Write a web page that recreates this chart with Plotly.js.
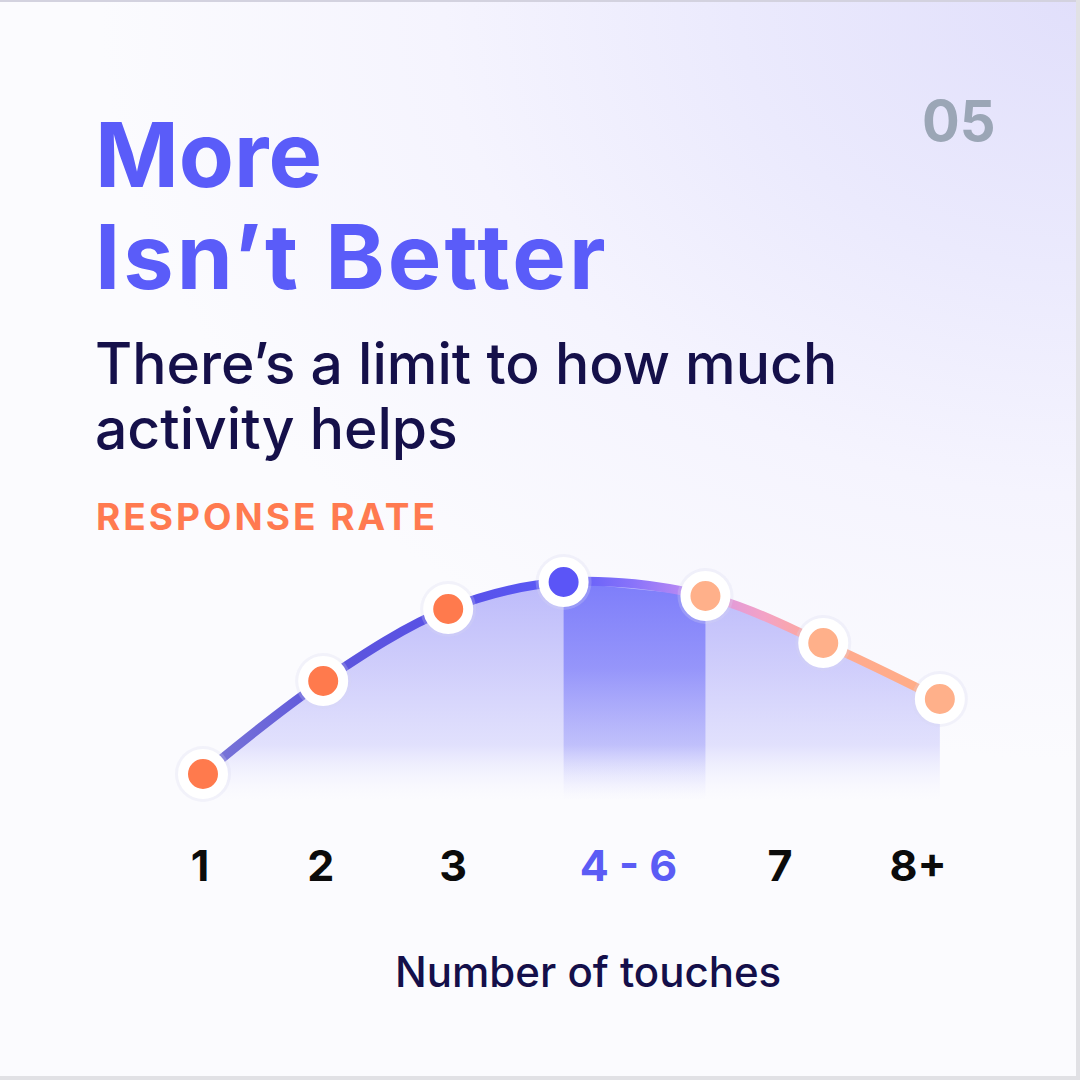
<!DOCTYPE html>
<html>
<head>
<meta charset="utf-8">
<script src="https://cdn.plot.ly/plotly-3.0.1.min.js"></script>
<style>
html, body { margin: 0; padding: 0; background: #fbfbfe; }
#chart {
  width: 1080px; height: 1080px;
  background:
    radial-gradient(ellipse 980px 760px at 100% 0%, #e1dffb 0%, #ebeafd 35%, #f5f4fe 65%, rgba(251,251,254,0) 100%),
    #fbfbfe;
}
</style>
</head>
<body>
<div id="chart"></div>
<script>
// ---- data ----
const touchLabels = ['1', '2', '3', '4 - 6', '7', '8+'];
const labelPos = [0.975, 1.98, 3.08, 4.54, 5.80, 6.95];
const pointPos = [1, 2, 3.04, 4.0, 5.18, 6.16, 7.13];
const responseRate = [2.6, 11.9, 19.1, 21.8, 20.4, 15.7, 10.1];
const pointColors = ['#ff7a4d', '#ff7a4d', '#ff7a4d', '#5b55f7', '#ffb08a', '#ffb08a', '#ffb08a'];
const bandStart = 3, bandEnd = 4; // the "4 - 6" range between points

const tickText = touchLabels.map(t => t === '4 - 6' ? '<span style="color:#5b5cf5">' + t + '</span>' : t);

const W = 1080, H = 1080;
const px = v => v / W;
const py = v => 1 - v / H;

const data = [
  { // soft area under curve
    x: pointPos, y: responseRate, mode: 'lines', hoverinfo: 'skip',
    line: { shape: 'spline', width: 0, color: 'rgba(0,0,0,0)' },
    fill: 'tozeroy',
    fillgradient: {
      type: 'vertical', start: 0, stop: 22,
      colorscale: [[0, 'rgba(240,240,255,0)'], [0.25, 'rgba(214,213,252,0.7)'], [0.6, 'rgba(200,198,251,0.85)'], [1, 'rgba(182,180,250,0.92)']]
    }
  },
  { // highlighted 4 - 6 band
    x: pointPos.slice(bandStart, bandEnd + 1), y: responseRate.slice(bandStart, bandEnd + 1),
    mode: 'lines', hoverinfo: 'skip',
    line: { width: 0, color: 'rgba(0,0,0,0)' },
    fill: 'tozeroy',
    fillgradient: {
      type: 'vertical', start: 0, stop: 22,
      colorscale: [[0, 'rgba(225,225,255,0)'], [0.25, 'rgba(165,165,250,0.55)'], [0.6, 'rgba(135,135,250,0.8)'], [1, 'rgba(118,118,250,0.9)']]
    }
  },
  { // the curve
    x: pointPos, y: responseRate, mode: 'lines', hoverinfo: 'skip',
    line: { shape: 'spline', width: 9, color: '#5a52e2' }
  },
  { // soft halo
    x: pointPos, y: responseRate, mode: 'markers', hoverinfo: 'skip',
    marker: { size: 56, color: 'rgba(215,215,240,0.25)' }
  },
  { // points
    x: pointPos, y: responseRate, mode: 'markers',
    marker: { size: 40, color: pointColors, line: { color: '#ffffff', width: 10 } }
  }
];

const ann = (text, x, y, size, color, weight, xanchor) => ({
  text, x, y, xref: 'paper', yref: 'paper', xanchor: xanchor || 'left', yanchor: 'middle',
  align: xanchor === 'right' ? 'right' : (xanchor === 'center' ? 'center' : 'left'), showarrow: false,
  font: { family: 'Inter, sans-serif', size, color, weight }
});

const layout = {
  width: W, height: H,
  margin: { l: 0, r: 0, t: 0, b: 0 },
  paper_bgcolor: 'rgba(0,0,0,0)', plot_bgcolor: 'rgba(0,0,0,0)',
  showlegend: false,
  xaxis: {
    domain: [px(160), px(980)], range: [0.6423, 7.464],
    showgrid: false, zeroline: false, showline: false, ticks: '',
    tickvals: labelPos, ticktext: tickText,
    tickfont: { family: 'Inter, sans-serif', size: 43, color: '#0b0b0b', weight: 700 },
    ticklabelstandoff: 4,
    fixedrange: true
  },
  yaxis: { domain: [py(833), py(540)], range: [-3.3, 26], visible: false, fixedrange: true },
  annotations: [
    ann('More', px(93), py(155), 90, '#5a5cf9', 700),
    ann('Isn’t Better', px(93), py(256), 90, '#5a5cf9', 700),
    ann('There’s a limit to how much', px(93), py(363), 57, '#15104a', 500),
    ann('activity helps', px(93), py(429), 57, '#15104a', 500),
    ann('RESPONSE RATE', px(94), py(517), 37, '#ff7a50', 700),
    ann('05', px(998), py(121), 56, '#9ba6b6', 700, 'right'),
    ann('Number of touches', px(588), py(971), 42, '#140f4a', 500, 'center')
  ],
  shapes: [
    { type: 'line', xref: 'paper', yref: 'paper', x0: 0, x1: 1, y0: py(1), y1: py(1), line: { color: '#d3d2df', width: 2 } },
    { type: 'line', xref: 'paper', yref: 'paper', x0: px(1078), x1: px(1078), y0: 0, y1: 1, line: { color: '#e1e1e5', width: 4 } },
    { type: 'line', xref: 'paper', yref: 'paper', x0: 0, x1: 1, y0: py(1078), y1: py(1078), line: { color: '#e1e1e5', width: 4 } }
  ]
};

const gd = document.getElementById('chart');
Plotly.newPlot(gd, data, layout, { staticPlot: true, displayModeBar: false }).then(() => {
  // colour gradient along the curve
  const xa = gd._fullLayout.xaxis;
  const p = pointPos.map(v => xa.l2p(v));
  const x0 = p[0], x1 = p[p.length - 1];
  const off = v => (v - x0) / (x1 - x0);
  const stops = [
    [off(p[0]), '#7c78d6'], [off(p[1]), '#5d56dc'], [off(p[2]), '#5850e6'], [off(p[3]), '#5a5af8'],
    [off((p[3] + p[4]) / 2), '#8a74fa'], [off(p[3] + 0.9 * (p[4] - p[3])), '#c08cf2'], [off(p[4]), '#d897e4'],
    [off((p[4] + p[5]) / 2), '#f3a2c6'], [off(p[5]), '#ffaa90'], [off(p[6]), '#ffad85']
  ];
  const ns = 'http://www.w3.org/2000/svg';
  const svg = gd.querySelector('svg.main-svg');
  let defs = svg.querySelector('defs');
  if (!defs) { defs = document.createElementNS(ns, 'defs'); svg.insertBefore(defs, svg.firstChild); }
  const lg = document.createElementNS(ns, 'linearGradient');
  lg.setAttribute('id', 'curveGrad');
  lg.setAttribute('gradientUnits', 'userSpaceOnUse');
  lg.setAttribute('x1', x0); lg.setAttribute('x2', x1);
  lg.setAttribute('y1', 0); lg.setAttribute('y2', 0);
  stops.forEach(([o, c]) => {
    const s = document.createElementNS(ns, 'stop');
    s.setAttribute('offset', Math.max(0, Math.min(1, o)));
    s.setAttribute('stop-color', c);
    lg.appendChild(s);
  });
  defs.appendChild(lg);
  const traces = gd.querySelectorAll('.scatterlayer .trace');
  const path = traces[2] && traces[2].querySelector('path.js-line');
  if (path) path.style.stroke = 'url(#curveGrad)';
  // tracking on some text lines
  gd.querySelectorAll('.annotation-text').forEach(t => {
    if (t.textContent === 'RESPONSE RATE') t.style.letterSpacing = '3px';
    if (t.textContent === 'Isn’t Better') t.style.letterSpacing = '3px';
  });
});
</script>
</body>
</html>
